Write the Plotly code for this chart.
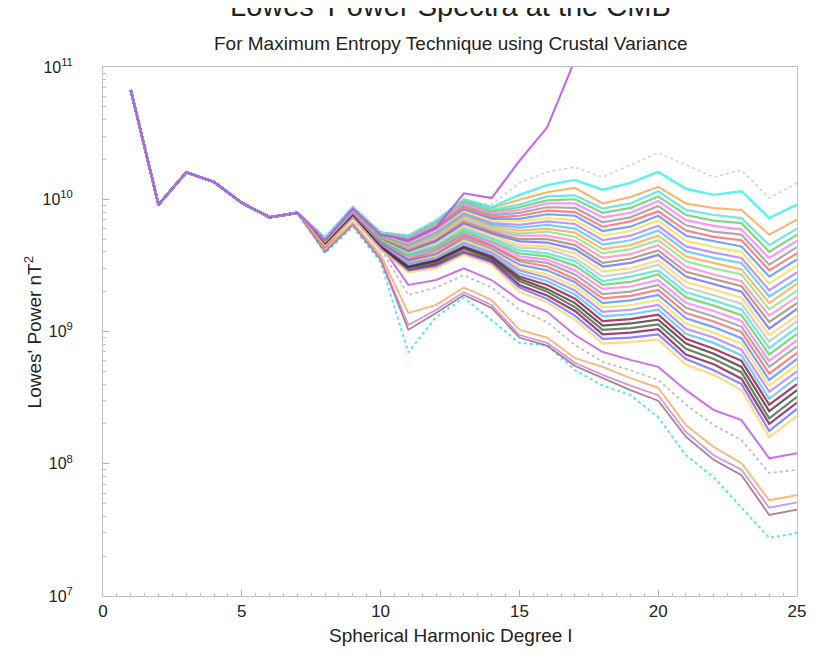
import plotly.graph_objects as go

# ---------------- data ----------------
degrees = list(range(1, 26))
# all models coincide for degrees 1..7
shared_l1_to_l7 = [6.7e10, 9.1e9, 1.6e10, 1.35e10, 9.4e9, 7.3e9, 7.9e9]

# degrees 8..25 for each model
top_gray = [5.1e9, 8.7e9, 5.6e9, 5.3e9, 6.9e9, 1.0e10, 9.1e9, 1.33e10, 1.61e10, 1.75e10, 1.47e10, 1.82e10, 2.24e10, 1.82e10, 1.47e10, 1.66e10, 1.02e10, 1.33e10]
top_cyan = [5.1e9, 8.7e9, 5.6e9, 5.3e9, 6.9e9, 1.0e10, 8.7e9, 1.08e10, 1.28e10, 1.40e10, 1.18e10, 1.33e10, 1.61e10, 1.2e10, 1.08e10, 1.15e10, 7.2e9, 9.1e9]
top_orange = [5.1e9, 8.7e9, 5.6e9, 5.3e9, 6.9e9, 9.9e9, 8.6e9, 9.9e9, 1.13e10, 1.22e10, 9.3e9, 1.04e10, 1.24e10, 9.3e9, 8.6e9, 8.3e9, 5.4e9, 7.0e9]
runaway = [4.9e9, 8.5e9, 5.4e9, 4.9e9, 6.1e9, 1.11e10, 1.02e10, 1.95e10, 3.5e10, 1.13e11, 3.0e11, 5.0e11, 8.0e11, 1.5e12, 2.5e12, 4.0e12, 6.0e12, 1.0e13]

band_spectra = [
    [5.1e9, 8.7e9, 5.6e9, 5.25e9, 6.8e9, 9.8e9, 8.3e9, 9.1e9, 1.05e10, 1.07e10, 8.5e9, 9.3e9, 1.15e10, 8.3e9, 7.6e9, 7.2e9, 4.5e9, 6.0e9],
    [5.1e9, 8.6e9, 5.6e9, 5.1e9, 6.6e9, 9.5e9, 8.05e9, 8.7e9, 9.8e9, 1.0e10, 7.9e9, 8.6e9, 1.05e10, 7.6e9, 6.9e9, 6.6e9, 4.0e9, 5.4e9],
    [5.1e9, 8.6e9, 5.5e9, 5.0e9, 6.4e9, 9.2e9, 7.8e9, 8.3e9, 9.3e9, 9.3e9, 7.3e9, 7.9e9, 9.7e9, 6.95e9, 6.3e9, 5.9e9, 3.6e9, 4.85e9],
    [5.0e9, 8.6e9, 5.5e9, 4.9e9, 6.2e9, 8.9e9, 7.55e9, 7.9e9, 8.7e9, 8.6e9, 6.7e9, 7.3e9, 8.9e9, 6.35e9, 5.7e9, 5.4e9, 3.2e9, 4.35e9],
    [5.0e9, 8.5e9, 5.4e9, 4.8e9, 6.1e9, 8.6e9, 7.3e9, 7.5e9, 8.2e9, 8.0e9, 6.2e9, 6.8e9, 8.1e9, 5.8e9, 5.2e9, 4.9e9, 2.9e9, 3.9e9],
    [5.0e9, 8.5e9, 5.3e9, 4.7e9, 5.9e9, 8.35e9, 7.1e9, 7.1e9, 7.7e9, 7.5e9, 5.75e9, 6.2e9, 7.5e9, 5.3e9, 4.8e9, 4.4e9, 2.6e9, 3.5e9],
    [5.0e9, 8.4e9, 5.3e9, 4.6e9, 5.75e9, 8.1e9, 6.85e9, 6.8e9, 7.2e9, 6.95e9, 5.3e9, 5.75e9, 6.9e9, 4.85e9, 4.35e9, 4.0e9, 2.3e9, 3.15e9],
    [4.9e9, 8.3e9, 5.2e9, 4.5e9, 5.6e9, 7.8e9, 6.6e9, 6.4e9, 6.8e9, 6.5e9, 4.9e9, 5.3e9, 6.3e9, 4.4e9, 3.95e9, 3.6e9, 2.05e9, 2.8e9],
    [4.9e9, 8.3e9, 5.2e9, 4.4e9, 5.4e9, 7.6e9, 6.4e9, 6.1e9, 6.4e9, 6.0e9, 4.55e9, 4.9e9, 5.8e9, 4.05e9, 3.6e9, 3.3e9, 1.84e9, 2.5e9],
    [4.9e9, 8.2e9, 5.1e9, 4.36e9, 5.3e9, 7.4e9, 6.2e9, 5.8e9, 6.0e9, 5.6e9, 4.2e9, 4.5e9, 5.3e9, 3.7e9, 3.3e9, 2.95e9, 1.64e9, 2.3e9],
    [4.9e9, 8.2e9, 5.1e9, 4.3e9, 5.2e9, 7.1e9, 6.0e9, 5.5e9, 5.7e9, 5.2e9, 3.9e9, 4.2e9, 4.9e9, 3.4e9, 3.0e9, 2.7e9, 1.47e9, 2.04e9],
    [4.9e9, 8.1e9, 5.0e9, 4.2e9, 5.0e9, 6.9e9, 5.8e9, 5.3e9, 5.3e9, 4.85e9, 3.6e9, 3.85e9, 4.5e9, 3.1e9, 2.7e9, 2.4e9, 1.32e9, 1.83e9],
    [4.8e9, 8.1e9, 5.0e9, 4.1e9, 4.9e9, 6.7e9, 5.65e9, 5.0e9, 5.0e9, 4.5e9, 3.3e9, 3.55e9, 4.1e9, 2.83e9, 2.5e9, 2.2e9, 1.18e9, 1.64e9],
    [4.8e9, 8.0e9, 4.9e9, 4.0e9, 4.8e9, 6.5e9, 5.5e9, 4.8e9, 4.7e9, 4.2e9, 3.1e9, 3.3e9, 3.8e9, 2.6e9, 2.27e9, 2.0e9, 1.05e9, 1.48e9],
    [4.8e9, 8.0e9, 4.9e9, 3.9e9, 4.6e9, 6.3e9, 5.3e9, 4.5e9, 4.4e9, 3.9e9, 2.85e9, 3.0e9, 3.45e9, 2.37e9, 2.07e9, 1.8e9, 9.4e8, 1.32e9],
    [4.8e9, 7.9e9, 4.8e9, 3.85e9, 4.5e9, 6.1e9, 5.1e9, 4.3e9, 4.2e9, 3.6e9, 2.6e9, 2.8e9, 3.2e9, 2.16e9, 1.88e9, 1.62e9, 8.4e8, 1.19e9],
    [4.7e9, 7.9e9, 4.8e9, 3.8e9, 4.4e9, 5.9e9, 5.0e9, 4.1e9, 3.9e9, 3.4e9, 2.4e9, 2.6e9, 2.9e9, 1.98e9, 1.72e9, 1.47e9, 7.5e8, 1.07e9],
    [4.7e9, 7.8e9, 4.8e9, 3.7e9, 4.3e9, 5.7e9, 4.8e9, 3.9e9, 3.7e9, 3.15e9, 2.25e9, 2.37e9, 2.7e9, 1.81e9, 1.57e9, 1.33e9, 6.7e8, 9.6e8],
    [4.7e9, 7.8e9, 4.7e9, 3.6e9, 4.2e9, 5.5e9, 4.7e9, 3.7e9, 3.5e9, 2.9e9, 2.1e9, 2.19e9, 2.45e9, 1.65e9, 1.43e9, 1.2e9, 6.0e8, 8.6e8],
    [4.7e9, 7.7e9, 4.7e9, 3.5e9, 4.1e9, 5.4e9, 4.5e9, 3.5e9, 3.3e9, 2.7e9, 1.92e9, 2.0e9, 2.25e9, 1.51e9, 1.3e9, 1.09e9, 5.4e8, 7.7e8],
    [4.6e9, 7.7e9, 4.6e9, 3.47e9, 3.9e9, 5.2e9, 4.4e9, 3.4e9, 3.1e9, 2.5e9, 1.78e9, 1.86e9, 2.06e9, 1.38e9, 1.19e9, 9.9e8, 4.8e8, 6.9e8],
    [4.6e9, 7.6e9, 4.6e9, 3.4e9, 3.8e9, 5.0e9, 4.2e9, 3.2e9, 2.9e9, 2.36e9, 1.64e9, 1.72e9, 1.89e9, 1.26e9, 1.08e9, 8.9e8, 4.3e8, 6.2e8],
    [4.6e9, 7.6e9, 4.5e9, 3.3e9, 3.7e9, 4.9e9, 4.1e9, 3.0e9, 2.7e9, 2.2e9, 1.52e9, 1.58e9, 1.73e9, 1.15e9, 9.8e8, 8.1e8, 3.9e8, 5.6e8],
    [4.5e9, 7.6e9, 4.5e9, 3.26e9, 3.6e9, 4.7e9, 3.96e9, 2.9e9, 2.55e9, 2.04e9, 1.41e9, 1.46e9, 1.59e9, 1.05e9, 9.0e8, 7.3e8, 3.5e8, 5.0e8],
    [4.5e9, 7.5e9, 4.4e9, 3.2e9, 3.5e9, 4.6e9, 3.8e9, 2.75e9, 2.4e9, 1.9e9, 1.3e9, 1.35e9, 1.46e9, 9.6e8, 8.2e8, 6.6e8, 3.1e8, 4.5e8],
    [4.5e9, 7.5e9, 4.4e9, 3.1e9, 3.45e9, 4.4e9, 3.7e9, 2.6e9, 2.25e9, 1.77e9, 1.2e9, 1.24e9, 1.34e9, 8.8e8, 7.4e8, 6.0e8, 2.8e8, 4.0e8],
    [4.5e9, 7.4e9, 4.3e9, 3.06e9, 3.4e9, 4.3e9, 3.6e9, 2.5e9, 2.1e9, 1.64e9, 1.11e9, 1.15e9, 1.23e9, 8.1e8, 6.8e8, 5.4e8, 2.5e8, 3.6e8],
    [4.4e9, 7.4e9, 4.3e9, 3.0e9, 3.3e9, 4.2e9, 3.5e9, 2.4e9, 2.0e9, 1.53e9, 1.03e9, 1.06e9, 1.13e9, 7.4e8, 6.2e8, 4.9e8, 2.2e8, 3.2e8],
    [4.4e9, 7.3e9, 4.3e9, 2.9e9, 3.2e9, 4.0e9, 3.4e9, 2.25e9, 1.87e9, 1.43e9, 9.5e8, 9.8e8, 1.04e9, 6.7e8, 5.65e8, 4.4e8, 2.0e8, 2.9e8],
    [4.4e9, 7.3e9, 4.2e9, 2.88e9, 3.1e9, 3.9e9, 3.3e9, 2.15e9, 1.76e9, 1.32e9, 8.8e8, 9.0e8, 9.5e8, 6.2e8, 5.1e8, 4.0e8, 1.77e8, 2.6e8],
    [4.4e9, 7.2e9, 4.2e9, 2.8e9, 3.0e9, 3.8e9, 3.2e9, 2.0e9, 1.66e9, 1.23e9, 8.1e8, 8.3e8, 8.7e8, 5.6e8, 4.7e8, 3.6e8, 1.59e8, 2.3e8],
]

low_purple_a = [4.65e9, 7.6e9, 4.5e9, 2.25e9, 2.45e9, 3.0e9, 2.45e9, 1.73e9, 1.41e9, 9.4e8, 7.0e8, 6.1e8, 5.4e8, 3.6e8, 2.55e8, 2.14e8, 1.1e8, 1.2e8]
low_gray = [4.5e9, 7.2e9, 4.25e9, 1.89e9, 2.15e9, 2.67e9, 2.15e9, 1.46e9, 1.18e9, 7.9e8, 5.9e8, 5.1e8, 4.3e8, 2.8e8, 1.96e8, 1.51e8, 8.5e7, 9.0e7]
low_orange = [4.25e9, 6.7e9, 3.8e9, 1.38e9, 1.59e9, 2.15e9, 1.73e9, 1.03e9, 9.0e8, 6.3e8, 5.4e8, 4.45e8, 3.75e8, 1.96e8, 1.34e8, 1.01e8, 5.3e7, 5.8e7]
low_purple_b = [4.1e9, 6.5e9, 3.6e9, 1.12e9, 1.46e9, 1.98e9, 1.59e9, 9.4e8, 8.2e8, 5.8e8, 4.7e8, 3.9e8, 3.3e8, 1.74e8, 1.16e8, 9.0e7, 4.65e7, 5.1e7]
low_brown = [4.0e9, 6.4e9, 3.5e9, 1.03e9, 1.38e9, 1.89e9, 1.51e9, 9.0e8, 7.8e8, 5.5e8, 4.45e8, 3.6e8, 3.0e8, 1.6e8, 1.07e8, 8.2e7, 4.1e7, 4.5e7]
low_cyan = [3.9e9, 6.2e9, 3.35e9, 6.95e8, 1.29e9, 1.8e9, 1.22e9, 8.2e8, 7.9e8, 5.1e8, 3.9e8, 3.3e8, 2.25e8, 1.16e8, 7.9e7, 4.7e7, 2.75e7, 3.0e7]

y_tick_values = [1e7, 1e8, 1e9, 1e10, 1e11]
y_tick_labels = ["10<sup>7</sup>", "10<sup>8</sup>", "10<sup>9</sup>", "10<sup>10</sup>", "10<sup>11</sup>"]
x_tick_values = [0, 5, 10, 15, 20, 25]

# ---------------- styling ----------------
band_palette = ["#40e0d0", "#50d050", "#ff70ff", "#909090", "#ff5a5a", "#5080ff",
                "#f0e040", "#b070ff", "#40c0ff", "#ffa040", "#80e080", "#ff80c0",
                "#a08060", "#6060ff", "#ffd060", "#c0c0c0"]
dark_colors = {25: "#900030", 26: "#402028", 27: "#306030", 28: "#800050"}

fig = go.Figure()


def add_line(values, color, width=1.8, dash="solid", opacity=0.8):
    fig.add_trace(go.Scatter(
        x=degrees, y=shared_l1_to_l7 + values, mode="lines",
        line=dict(color=color, width=width, dash=dash),
        opacity=opacity, showlegend=False, hoverinfo="skip"))


add_line(low_cyan, "#30e0e0", dash="dot", width=2)
add_line(low_brown, "#a06070")
add_line(low_purple_b, "#c080e0")
add_line(low_orange, "#ffa050")
add_line(low_gray, "#b0b0b0", dash="dot")
add_line(low_purple_a, "#c050e0", width=2)

for k, row in enumerate(band_spectra):
    col = dark_colors.get(k, band_palette[k % len(band_palette)])
    add_line(row, col, width=2.2, opacity=0.75)

add_line(top_orange, "#ffa040", width=2)
add_line(top_cyan, "#30f0f0", width=2.4)
add_line(top_gray, "#c8c8c8", dash="dot", width=1.6)
add_line(runaway, "#c050f0", width=2, opacity=0.9)

minor_y = [m * 10 ** e for e in range(7, 11) for m in range(2, 10)]
font_family = "Liberation Sans, Arial, sans-serif"

# the page body adds an 8 px offset, margins compensate for it
fig.update_layout(
    width=815, height=658,
    margin=dict(l=95, r=26, t=59, b=70),
    paper_bgcolor="white", plot_bgcolor="white",
    font=dict(family=font_family, color="#222222", size=16),
    showlegend=False,
    xaxis=dict(range=[0, 25], tickvals=x_tick_values, ticks="inside", ticklen=6,
               tickcolor="#b0b0b0", showline=True, linecolor="#c0c0c0", mirror=True,
               showgrid=False, zeroline=False, tickfont=dict(size=17),
               minor=dict(ticks="inside", ticklen=3, tickcolor="#c0c0c0", dtick=0.5)),
    yaxis=dict(type="log", range=[7, 11], tickvals=y_tick_values, ticktext=y_tick_labels,
               ticks="inside", ticklen=6, tickcolor="#b0b0b0", showline=True,
               linecolor="#c0c0c0", mirror=True, showgrid=False, zeroline=False,
               tickfont=dict(size=16), ticklabelstandoff=26,
               minor=dict(ticks="inside", ticklen=3, tickcolor="#c0c0c0", tickvals=minor_y)),
    annotations=[
        dict(text="Lowes' Power Spectra at the CMB", xref="paper", yref="paper",
             x=0.5, y=1.0813, xanchor="center", yanchor="bottom", showarrow=False,
             font=dict(size=29, color="#222222")),
        dict(text="For Maximum Entropy Technique using Crustal Variance", xref="paper",
             yref="paper", x=0.5, y=1.021, xanchor="center", yanchor="bottom",
             showarrow=False, font=dict(size=19, color="#222222")),
        dict(text="Spherical Harmonic Degree l", xref="paper", yref="paper",
             x=0.5, y=-0.0756, xanchor="center", yanchor="middle", showarrow=False,
             font=dict(size=19, color="#222222")),
        dict(text="Lowes' Power nT<sup>2</sup>", xref="paper", yref="paper",
             x=-0.101, y=0.5, xanchor="center", yanchor="middle", textangle=-90,
             showarrow=False, font=dict(size=19, color="#222222")),
    ],
)

fig.write_html("out.html")
